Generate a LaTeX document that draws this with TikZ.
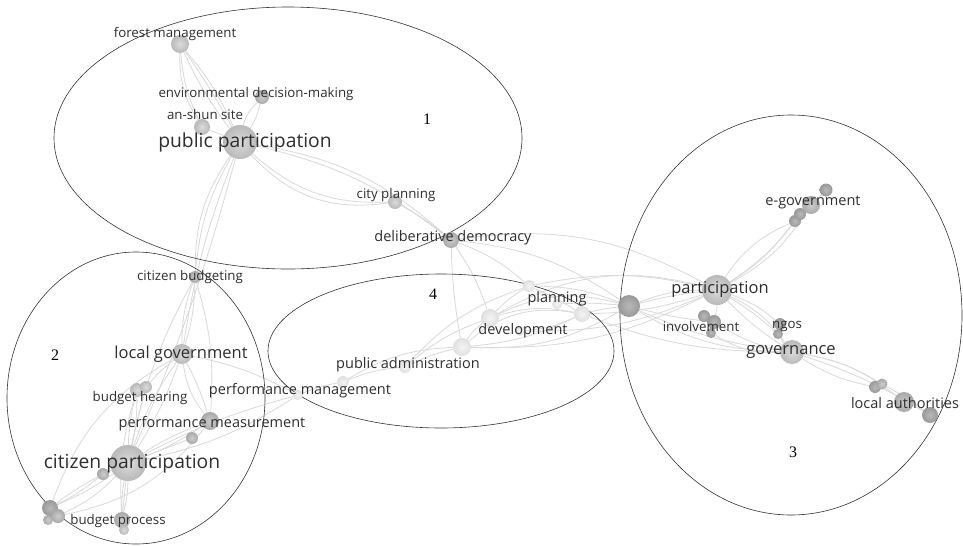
\documentclass[tikz,border=0pt]{standalone}
\usepackage{fontspec}
\setmainfont{Open Sans}
\newfontfamily\numfont{Liberation Serif}
\pgfdeclarelayer{back}
\pgfdeclarelayer{bg}
\pgfsetlayers{back,bg,main}
\tikzset{
  bub/.style={circle, inner sep=0pt, minimum size=#1, draw=none},
  c1/.style={shading=radial, inner color=gray!28, outer color=gray!55},
  c2/.style={shading=radial, inner color=gray!40, outer color=gray!68},
  c3/.style={shading=radial, inner color=gray!55, outer color=gray!80},
  c4/.style={shading=radial, inner color=gray!8, outer color=gray!25},
  lab/.style={text=black!82, inner sep=0pt, font=\fontsize{13.3}{13.3}\selectfont},
  labm/.style={lab, font=\fontsize{14.5}{14.5}\selectfont},
  labl/.style={lab, font=\fontsize{16.5}{16.5}\selectfont},
  labx/.style={lab, font=\fontsize{19.3}{19.3}\selectfont},
  num/.style={inner sep=0pt, font=\numfont\fontsize{16}{16}\selectfont},
  edge/.style={draw=gray!30, line width=0.8pt},
  clus/.style={draw=black!80, line width=0.6pt},
}
\begin{document}
\begin{tikzpicture}[x=1pt,y=-1pt]
\begin{pgfonlayer}{back}
\fill[white] (0,0) rectangle (963,546);
\end{pgfonlayer}
\useasboundingbox (0,0) rectangle (963,546);
% clusters
\draw[clus] (288,138) ellipse [x radius=234, y radius=131];
\draw[clus] (136,398) ellipse [x radius=129, y radius=146];
\draw[clus] (441,351) ellipse [x radius=173, y radius=77];
\draw[clus] (791,315) ellipse [x radius=171, y radius=200];
\node[num] (n1) at (427,119) {1};
\node[num] (n2) at (55,355) {2};
\node[num] (n3) at (793,452) {3};
\node[num] (n4) at (433,294) {4};
% cluster 1 bubbles
\node[bub=18, c1] (fm) at (180,44) {};
\node[bub=14, c2] (edm) at (262,97) {};
\node[bub=16, c1] (an) at (202,127) {};
\node[bub=34, c1] (pp) at (240,142) {};
\node[bub=14, c1] (cp) at (395,202) {};
\node[bub=16, c2] (dd) at (451,240) {};
% cluster 2 bubbles
\node[bub=12, c2] (cb) at (195,277) {};
\node[bub=20, c1] (lg) at (182,354) {};
\node[bub=14, c1] (bh1) at (137,390) {};
\node[bub=12, c1] (bh2) at (146,387) {};
\node[bub=18, c2] (pm1) at (210,421) {};
\node[bub=12, c2] (pm2) at (192,438) {};
\node[bub=36, c1] (cpart) at (128,463) {};
\node[bub=12, c2] (sm) at (103,474) {};
\node[bub=16, c3] (cl1) at (50,508) {};
\node[bub=14, c2] (cl2) at (58,516) {};
\node[bub=10, c2] (cl3) at (48,520) {};
\node[bub=16, c2] (bp) at (122,520) {};
\node[bub=10, c1] (bp2) at (124,530) {};
% cluster 4 bubbles
\node[bub=10, c4] (pmg) at (298,395) {};
\node[bub=12, c4] (pa1) at (343,382) {};
\node[bub=12, c4] (pa2) at (405,367) {};
\node[bub=18, c4] (pa3) at (462,347) {};
\node[bub=18, c4] (dv1) at (490,318) {};
\node[bub=10, c4] (dv2) at (520,331) {};
\node[bub=12, c4] (pl1) at (529,286) {};
\node[bub=10, c4] (pl2) at (557,304) {};
\node[bub=16, c4] (pl3) at (582,314) {};
% cluster 3 bubbles
\node[bub=22, c3] (dk) at (629,306) {};
\node[bub=30, c1] (part) at (717,290) {};
\node[bub=12, c3] (inv1) at (704,316) {};
\node[bub=14, c3] (inv2) at (714,322) {};
\node[bub=10, c3] (inv3) at (711,333) {};
\node[bub=12, c3] (ng1) at (780,324) {};
\node[bub=10, c3] (ng2) at (778,334) {};
\node[bub=24, c1] (gov) at (792,352) {};
\node[bub=12, c3] (eg1) at (795,221) {};
\node[bub=12, c3] (eg2) at (800,214) {};
\node[bub=18, c2] (eg3) at (811,205) {};
\node[bub=13, c3] (eg4) at (826,190) {};
\node[bub=12, c3] (la1) at (875,387) {};
\node[bub=11, c2] (la2) at (882,384) {};
\node[bub=20, c2] (la3) at (904,402) {};
\node[bub=16, c3] (la4) at (930,415) {};
% labels
\node[lab] (t-fm) at (175,34) {forest management};
\node[lab] (t-edm) at (256,94) {environmental decision-making};
\node[lab] (t-an) at (205,115) {an-shun site};
\node[labx] (t-pp) at (245,142) {public participation};
\node[lab] (t-cp) at (396,195) {city planning};
\node[labm] (t-dd) at (453,238) {deliberative democracy};
\node[lab] (t-cb) at (190,277) {citizen budgeting};
\node[labl] (t-lg) at (181,354) {local government};
\node[lab] (t-bh) at (140,398) {budget hearing};
\node[labm] (t-pmg) at (300,391) {performance management};
\node[labm] (t-pm) at (212,424) {performance measurement};
\node[labx] (t-cpart) at (132,464) {citizen participation};
\node[lab] (t-bp) at (118,521) {budget process};
\node[labm] (t-pa) at (408,365) {public administration};
\node[labm] (t-dv) at (523,331) {development};
\node[labm] (t-pl) at (557,299) {planning};
\node[labl] (t-part) at (720,289) {participation};
\node[lab] (t-inv) at (701,327) {involvement};
\node[lab] (t-ng) at (787,326) {ngos};
\node[labl] (t-gov) at (791,352) {governance};
\node[labm] (t-eg) at (813,202) {e-government};
\node[labm] (t-la) at (905,403) {local authorities};
% edges
\begin{pgfonlayer}{bg}
\draw[edge] (fm) to[bend left=8] (pp);
\draw[edge] (fm) to[bend left=3] (pp);
\draw[edge] (fm) to[bend right=6] (pp);
\draw[edge] (fm) to[bend right=10] (an);
\draw[edge] (fm) to[bend right=16] (an);
\draw[edge] (edm) to[bend left=10] (pp);
\draw[edge] (edm) to[bend right=15] (pp);
\draw[edge] (an) to (pp);
\draw[edge] (pp) to[bend right=22] (cp);
\draw[edge] (pp) to[bend right=28] (cp);
\draw[edge] (pp) to[bend left=12] (dd);
\draw[edge] (pp) to[bend left=16] (dd);
\draw[edge] (pp) to[bend right=12] (cb);
\draw[edge] (pp) to[bend right=17] (cb);
\draw[edge] (pp) to[bend right=6] (lg);
\draw[edge] (pp) to[bend left=4] (cpart);
\draw[edge] (cp) to[bend left=5] (dd);
\draw[edge] (dd) to[bend left=10] (pl1);
\draw[edge] (dd) to[bend left=8] (dv1);
\draw[edge] (dd) to[bend right=4] (pa3);
\draw[edge] (dd) to[bend left=14] (dk);
\draw[edge] (dd) to[bend left=18] (part);
\draw[edge] (cb) to[bend right=10] (lg);
\draw[edge] (cb) to[bend left=8] (lg);
\draw[edge] (cb) to[bend right=8] (cpart);
\draw[edge] (cb) to[bend left=10] (pm1);
\draw[edge] (lg) to[bend right=8] (cpart);
\draw[edge] (lg) to[bend left=6] (cpart);
\draw[edge] (lg) to[bend right=6] (bh2);
\draw[edge] (lg) to[bend left=5] (pm1);
\draw[edge] (lg) to[bend left=8] (pmg);
\draw[edge] (lg) to[bend right=15] (pm1);
\draw[edge] (bh1) to[bend right=6] (cpart);
\draw[edge] (bh1) to[bend left=6] (cpart);
\draw[edge] (bh2) to[bend right=5] (bp);
\draw[edge] (bh1) to[bend right=10] (bp);
\draw[edge] (pm1) to[bend left=6] (cpart);
\draw[edge] (pm1) to[bend right=6] (cpart);
\draw[edge] (pm2) to (cpart);
\draw[edge] (cpart) to[bend right=10] (pmg);
\draw[edge] (cpart) to[bend left=6] (pmg);
\draw[edge] (cpart) to[bend right=6] (cl1);
\draw[edge] (cpart) to[bend left=6] (cl1);
\draw[edge] (cpart) to[bend left=10] (cl2);
\draw[edge] (sm) to[bend left=6] (cl1);
\draw[edge] (cpart) to[bend right=6] (bp);
\draw[edge] (cpart) to[bend left=6] (bp);
\draw[edge] (cl2) to[bend right=20] (pm1);
\draw[edge] (lg) to[bend right=20] (cl1);
\draw[edge] (pmg) to[bend left=6] (pa1);
\draw[edge] (pa1) to[bend left=8] (pa2);
\draw[edge] (pa1) to[bend left=14] (pa3);
\draw[edge] (pa2) to[bend left=10] (dv1);
\draw[edge] (pa2) to[bend left=6] (pa3);
\draw[edge] (pa2) to[bend left=14] (pl1);
\draw[edge] (pa3) to[bend left=10] (dv1);
\draw[edge] (pa3) to[bend left=25] (pl3);
\draw[edge] (pa3) to[bend right=10] (pl3);
\draw[edge] (pa3) to[bend right=16] (dk);
\draw[edge] (dv1) to[bend left=8] (pl1);
\draw[edge] (dv1) to[bend left=14] (pl3);
\draw[edge] (dv1) to[bend left=20] (dk);
\draw[edge] (dv1) to[bend left=22] (part);
\draw[edge] (dv2) to[bend right=10] (pl3);
\draw[edge] (dv2) to[bend right=12] (part);
\draw[edge] (pl1) to[bend left=10] (dk);
\draw[edge] (pl1) to[bend left=12] (part);
\draw[edge] (pl1) to[bend left=4] (pl3);
\draw[edge] (pl2) to[bend left=4] (dk);
\draw[edge] (pl3) to[bend left=4] (dk);
\draw[edge] (pl3) to[bend right=8] (part);
\draw[edge] (pl3) to[bend right=10] (gov);
\draw[edge] (pa3) to[bend right=14] (part);
\draw[edge] (dk) to[bend left=4] (part);
\draw[edge] (dk) to[bend left=10] (part);
\draw[edge] (dk) to[bend right=4] (inv2);
\draw[edge] (dk) to[bend right=14] (gov);
\draw[edge] (dk) to[bend right=8] (gov);
\draw[edge] (part) to[bend left=16] (eg1);
\draw[edge] (part) to[bend right=10] (eg1);
\draw[edge] (part) to[bend right=14] (eg3);
\draw[edge] (part) to[bend right=10] (eg2);
\draw[edge] (part) to[bend left=6] (inv2);
\draw[edge] (part) to[bend left=10] (ng1);
\draw[edge] (part) to[bend left=5] (ng2);
\draw[edge] (part) to[bend right=6] (gov);
\draw[edge] (part) to[bend left=14] (gov);
\draw[edge] (inv2) to[bend right=10] (gov);
\draw[edge] (inv3) to[bend right=16] (gov);
\draw[edge] (ng2) to[bend right=6] (gov);
\draw[edge] (gov) to[bend right=10] (la1);
\draw[edge] (gov) to[bend left=10] (la2);
\draw[edge] (gov) to[bend left=14] (la3);
\draw[edge] (gov) to[bend left=6] (la4);
\draw[edge] (la2) to[bend left=4] (la4);
\draw[edge] (eg1) to (eg3);
\draw[edge] (eg3) to (eg4);
\end{pgfonlayer}
\end{tikzpicture}
\end{document}
